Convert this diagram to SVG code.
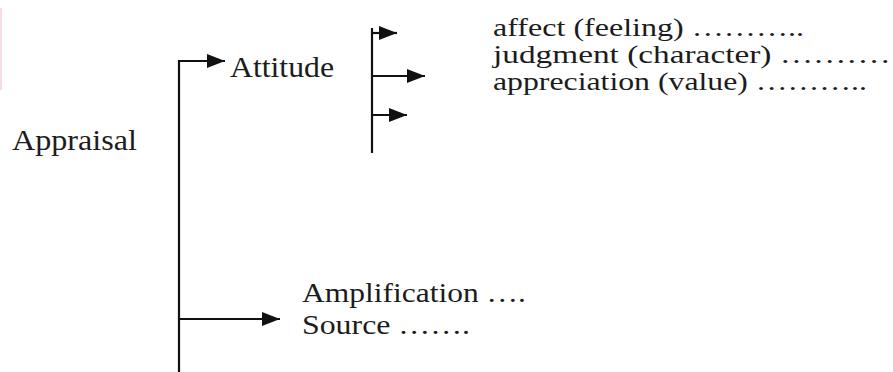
<svg xmlns="http://www.w3.org/2000/svg" width="893" height="372" viewBox="0 0 893 372">
  <style>
    text { font-family: 'Liberation Serif', 'Times New Roman', Times, 'DejaVu Serif', serif; fill: #1c1c1c; }
    .wire { fill: none; stroke: #111; stroke-width: 2.2; marker-end: url(#head); }
  </style>
  <defs>
    <marker id="head" markerUnits="userSpaceOnUse" markerWidth="18" markerHeight="16" viewBox="0 0 18 16" refX="18" refY="8" orient="auto">
      <path d="M0,1 L18,8 L0,15 Z" fill="#111"/>
    </marker>
  </defs>
  <rect width="893" height="372" fill="#fff"/>
  <!-- thin edge mark at the top left -->
  <rect x="0" y="8" width="2" height="82" fill="#f6dde3"/>

  <g id="connectors">
    <!-- trunk from Appraisal to Attitude -->
    <path class="wire" d="M179,372 V61 H225"/>
    <!-- trunk branch to Amplification / Source -->
    <path class="wire" d="M179,319 H280"/>
    <!-- Attitude spine -->
    <path d="M372,28 V153" fill="none" stroke="#111" stroke-width="2.2"/>
    <path class="wire" d="M372,33 H397"/>
    <path class="wire" d="M372,76 H425"/>
    <path class="wire" d="M372,115 H407"/>
  </g>

  <g id="appraisal" font-family="Liberation Serif" font-size="30">
    <text x="12" y="150" textLength="125" lengthAdjust="spacingAndGlyphs">Appraisal</text>
  </g>
  <g id="attitude" font-family="Liberation Serif" font-size="30">
    <text x="230" y="77" textLength="104" lengthAdjust="spacingAndGlyphs">Attitude</text>
  </g>
  <g id="attitude-types" font-family="Liberation Serif" font-size="25">
    <text x="493" y="36" textLength="311" lengthAdjust="spacingAndGlyphs">affect (feeling) ………..</text>
    <text x="493" y="63" textLength="420" lengthAdjust="spacingAndGlyphs">judgment (character) …………</text>
    <text x="493" y="90" textLength="374" lengthAdjust="spacingAndGlyphs">appreciation (value) ………..</text>
  </g>
  <g id="amplification-source" font-family="Liberation Serif" font-size="28">
    <text x="302" y="302" textLength="224" lengthAdjust="spacingAndGlyphs">Amplification ….</text>
    <text x="302" y="334" textLength="168" lengthAdjust="spacingAndGlyphs">Source …….</text>
  </g>
</svg>
